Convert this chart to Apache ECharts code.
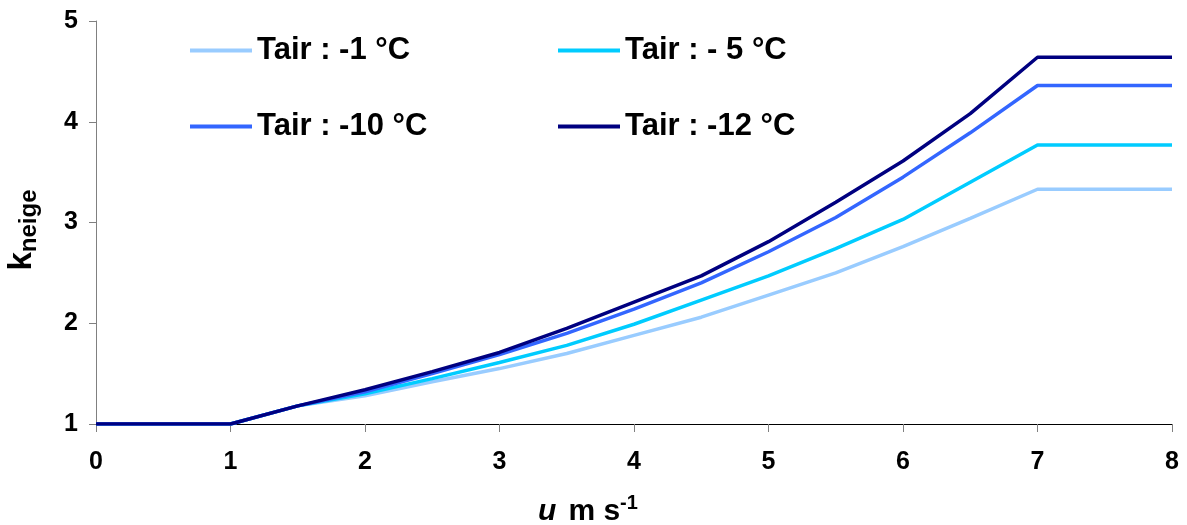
<!DOCTYPE html>
<html>
<head>
<meta charset="utf-8">
<script src="https://cdn.jsdelivr.net/npm/echarts@6/dist/echarts.min.js"></script>
<style>
html,body{margin:0;padding:0;background:#fff;}
#chart{width:1187px;height:525px;}
</style>
</head>
<body>
<div id="chart"></div>
<script>
var windSpeeds = [0, 0.5, 1, 1.5, 2, 2.5, 3, 3.5, 4, 4.5, 5, 5.5, 6, 6.5, 7, 7.5, 8];
var seriesNames = ['Tair : -1 °C', 'Tair : - 5 °C', 'Tair : -10 °C', 'Tair : -12 °C'];
var kTairM1  = [1, 1, 1, 1.18, 1.28, 1.42, 1.55, 1.70, 1.88, 2.06, 2.28, 2.50, 2.76, 3.04, 3.33, 3.33, 3.33];
var kTairM5  = [1, 1, 1, 1.18, 1.30, 1.45, 1.61, 1.78, 1.99, 2.23, 2.47, 2.74, 3.03, 3.40, 3.77, 3.77, 3.77];
var kTairM10 = [1, 1, 1, 1.18, 1.32, 1.50, 1.69, 1.90, 2.14, 2.40, 2.71, 3.05, 3.45, 3.89, 4.36, 4.36, 4.36];
var kTairM12 = [1, 1, 1, 1.18, 1.34, 1.52, 1.71, 1.95, 2.21, 2.47, 2.81, 3.20, 3.61, 4.08, 4.64, 4.64, 4.64];
var colors = ['#99CCFF', '#00CCFF', '#3366FF', '#000080'];
var allValues = [kTairM1, kTairM5, kTairM10, kTairM12];

var FONT = 'Liberation Sans, Arial, sans-serif';

function pairs(vals) {
  return windSpeeds.map(function (x, i) { return [x, vals[i]]; });
}

var legendPos = [
  {left: 190, top: 35},
  {left: 558, top: 35},
  {left: 190, top: 111},
  {left: 558, top: 111}
];

var chart = echarts.init(document.getElementById('chart'), null, {renderer: 'canvas'});
var option = {
  animation: false,
  backgroundColor: '#ffffff',
  grid: {left: 96, right: 15, top: 21, bottom: 101, containLabel: false},
  legend: seriesNames.map(function (n, i) {
    return {
      data: [n],
      left: legendPos[i].left,
      top: legendPos[i].top,
      padding: 0,
      icon: 'rect',
      itemWidth: 62,
      itemHeight: 4,
      itemGap: 6,
      selectedMode: false,
      textStyle: {fontFamily: FONT, fontWeight: 'bold', fontSize: 31, color: '#000'}
    };
  }),
  xAxis: {
    type: 'value',
    min: 0, max: 8, interval: 1,
    axisLine: {show: true, onZero: false, lineStyle: {color: '#000', width: 1}},
    axisTick: {show: true, length: 8, lineStyle: {color: '#808080'}},
    splitLine: {show: false},
    axisLabel: {fontFamily: FONT, fontWeight: 'bold', fontSize: 25, color: '#000', margin: 26}
  },
  yAxis: {
    type: 'value',
    min: 1, max: 5, interval: 1,
    axisLine: {show: true, lineStyle: {color: '#808080', width: 1}},
    axisTick: {show: true, length: 7, lineStyle: {color: '#808080'}},
    splitLine: {show: false},
    axisLabel: {fontFamily: FONT, fontWeight: 'bold', fontSize: 25, color: '#000', margin: 18}
  },
  graphic: [
    {
      type: 'text',
      x: 22, y: 230,
      rotation: Math.PI / 2,
      style: {
        text: '{k|k}{n|neige}',
        align: 'center',
        verticalAlign: 'middle',
        rich: {
          k: {fontFamily: FONT, fontWeight: 'bold', fontSize: 33, fill: '#000', verticalAlign: 'bottom'},
          n: {fontFamily: FONT, fontWeight: 'bold', fontSize: 24, fill: '#000', verticalAlign: 'bottom', padding: [0, 0, -3, 0]}
        }
      }
    },
    {
      type: 'text',
      x: 588, y: 510,
      style: {
        text: '{u|u}{m|m s}{s|-1}',
        align: 'center',
        verticalAlign: 'middle',
        rich: {
          u: {fontFamily: FONT, fontWeight: 'bold', fontStyle: 'italic', fontSize: 30, fill: '#000', verticalAlign: 'bottom', padding: [0, 12, 0, 0]},
          m: {fontFamily: FONT, fontWeight: 'bold', fontSize: 30, fill: '#000', verticalAlign: 'bottom'},
          s: {fontFamily: FONT, fontWeight: 'bold', fontSize: 20, fill: '#000', verticalAlign: 'bottom', padding: [0, 0, 14, 0]}
        }
      }
    }
  ],
  series: seriesNames.map(function (n, i) {
    return {
      name: n,
      type: 'line',
      data: pairs(allValues[i]),
      showSymbol: false,
      symbol: 'none',
      lineStyle: {color: colors[i], width: 3.5},
      itemStyle: {color: colors[i]},
      z: 2 + i
    };
  })
};
chart.setOption(option);
</script>
</body>
</html>
